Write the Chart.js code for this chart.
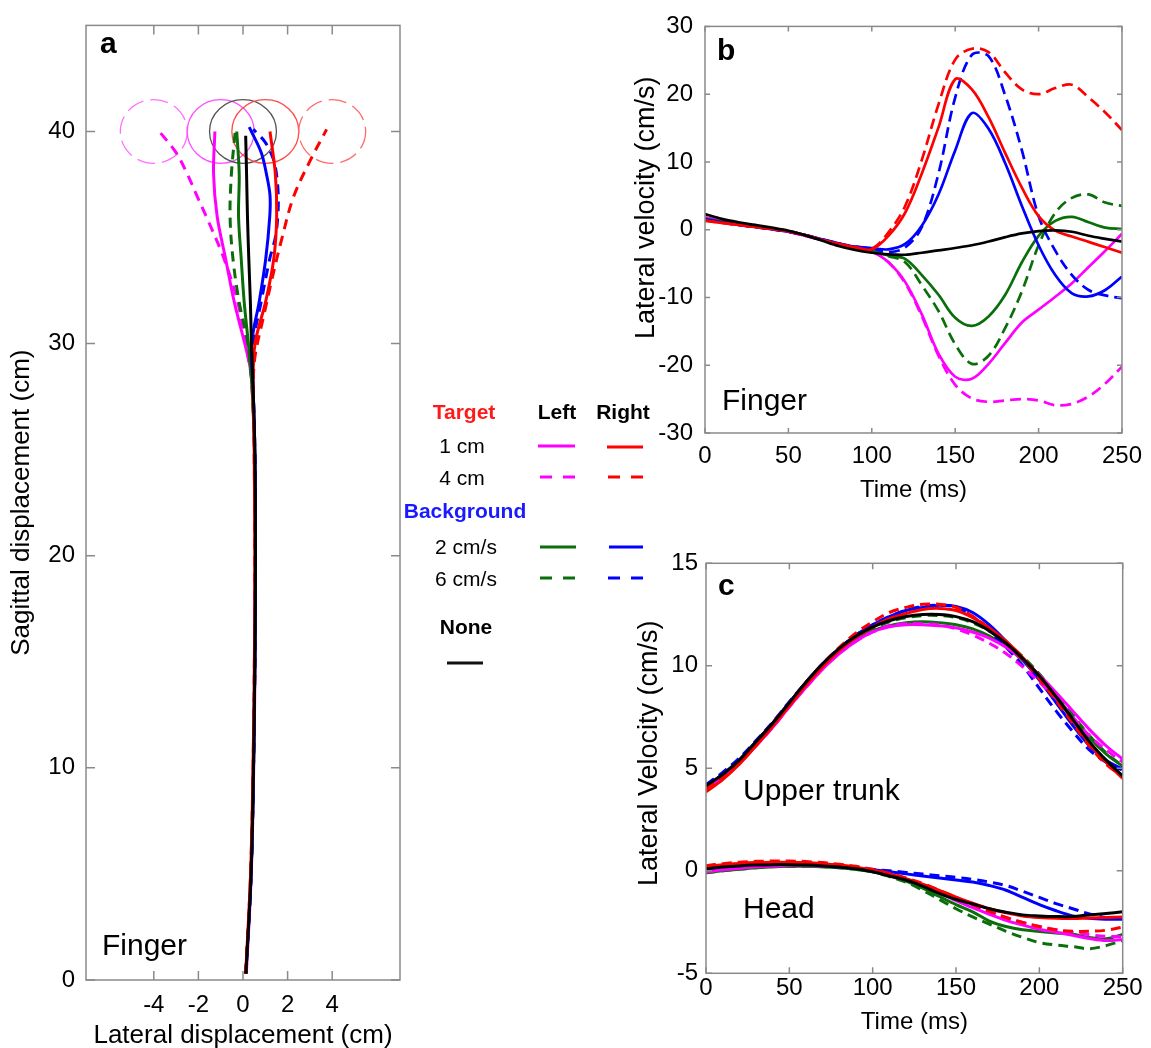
<!DOCTYPE html>
<html><head><meta charset="utf-8">
<script src="https://cdn.jsdelivr.net/npm/chart.js@4.4.1/dist/chart.umd.min.js"></script>
<style>
html,body{margin:0;padding:0;background:#fff;}
#wrap{position:relative;width:1151px;height:1048px;overflow:hidden;background:#fff;font-family:"Liberation Sans",Arial,sans-serif;}
canvas{position:absolute;}
.lg{position:absolute;transform:translate(-50%,-50%);font-size:21px;white-space:nowrap;color:#000;line-height:1;}
.b{font-weight:bold;}
#legend{position:absolute;left:0;top:0;width:1151px;height:1048px;z-index:5;pointer-events:none;}
</style></head><body>
<div id="wrap">
<canvas id="ca" width="430" height="1048" style="left:0;top:0"></canvas>
<canvas id="cb" width="521" height="520" style="left:630px;top:0"></canvas>
<canvas id="cc" width="521" height="508" style="left:630px;top:540px"></canvas>
<div id="legend">
  <div class="lg b" style="left:464px;top:411px;color:#ff1a1a">Target</div>
  <div class="lg b" style="left:557px;top:411px">Left</div>
  <div class="lg b" style="left:623px;top:411px">Right</div>
  <div class="lg" style="left:462px;top:445px">1 cm</div>
  <div class="lg" style="left:462px;top:477px">4 cm</div>
  <div class="lg b" style="left:465px;top:510px;color:#1a1aff">Background</div>
  <div class="lg" style="left:466px;top:546px">2 cm/s</div>
  <div class="lg" style="left:466px;top:578px">6 cm/s</div>
  <div class="lg b" style="left:466px;top:626px">None</div>
  <svg width="1151" height="1048" style="position:absolute;left:0;top:0">
    <line x1="538" y1="446" x2="575" y2="446" stroke="#ff00ff" stroke-width="3"/>
    <line x1="607" y1="447" x2="643" y2="447" stroke="#ff0000" stroke-width="3"/>
    <line x1="540" y1="477" x2="576" y2="477" stroke="#ff00ff" stroke-width="3" stroke-dasharray="12 11"/>
    <line x1="608" y1="477" x2="644" y2="477" stroke="#ff0000" stroke-width="3" stroke-dasharray="12 11"/>
    <line x1="540" y1="547" x2="576" y2="547" stroke="#0a6e0a" stroke-width="3"/>
    <line x1="609" y1="547" x2="643" y2="547" stroke="#0000ff" stroke-width="3"/>
    <line x1="540" y1="578" x2="576" y2="578" stroke="#0a6e0a" stroke-width="3" stroke-dasharray="12 11"/>
    <line x1="608" y1="578" x2="644" y2="578" stroke="#0000ff" stroke-width="3" stroke-dasharray="12 11"/>
    <line x1="447" y1="663" x2="483" y2="663" stroke="#111" stroke-width="3"/>
  </svg>
</div>
</div>
<script>
// ---------------- DATA ----------------
// Panel a: finger paths (lateral x, sagittal y), cm
const aXTicks = [-4, -2, 0, 2, 4];
const aYTicks = [0, 10, 20, 30, 40];
const targetX = [-4, -1, 0, 1, 4];
const targetY = [40, 40, 40, 40, 40];
const targetR = [1.5, 1.5, 1.5, 1.5, 1.5];

const aNoneY   = [0.3, 5, 10, 15, 20, 25, 28, 30, 32, 34, 36, 38, 39.8];
const aNoneX   = [0.13, 0.36, 0.47, 0.53, 0.56, 0.53, 0.45, 0.38, 0.33, 0.26, 0.2, 0.16, 0.12];
const aL1Y     = [0.3, 5, 10, 15, 20, 25, 28, 29, 30, 32, 34, 36, 38, 40];
const aL1X     = [0.15, 0.37, 0.48, 0.54, 0.56, 0.52, 0.42, 0.3, 0.08, -0.4, -0.78, -1.16, -1.32, -1.26];
const aL4Y     = [0.3, 5, 10, 15, 20, 25, 28, 30, 32, 34, 36, 37, 38, 39, 40];
const aL4X     = [0.14, 0.36, 0.47, 0.53, 0.55, 0.52, 0.42, 0.12, -0.25, -0.85, -1.65, -2.08, -2.5, -3.0, -3.75];
const aR1Y     = [0.3, 5, 10, 15, 20, 25, 28, 30, 32, 34, 36, 38, 40];
const aR1X     = [0.12, 0.34, 0.45, 0.51, 0.53, 0.5, 0.45, 0.54, 1.02, 1.38, 1.51, 1.45, 1.21];
const aR4Y     = [0.3, 5, 10, 15, 20, 25, 28, 29.4, 31.4, 33, 34.9, 36.9, 38.6, 40.1];
const aR4X     = [0.12, 0.34, 0.45, 0.51, 0.53, 0.5, 0.46, 0.54, 0.95, 1.29, 1.73, 2.26, 3.0, 3.75];
const aBgL2Y   = [0.3, 5, 10, 15, 20, 25, 28, 30, 32, 34, 36, 38, 40];
const aBgL2X   = [0.13, 0.36, 0.47, 0.53, 0.55, 0.52, 0.4, 0.24, 0.05, -0.08, -0.2, -0.17, -0.28];
const aBgL6Y   = [0.3, 5, 10, 15, 20, 25, 28, 30, 32, 34, 36, 38, 40];
const aBgL6X   = [0.13, 0.36, 0.47, 0.53, 0.55, 0.52, 0.4, 0.22, -0.18, -0.45, -0.58, -0.52, -0.35];
const aBgR2Y   = [0.3, 5, 10, 15, 20, 25, 28, 30, 32, 34, 36, 37, 38, 39, 40.2];
const aBgR2X   = [0.13, 0.36, 0.47, 0.53, 0.56, 0.53, 0.45, 0.39, 0.73, 1.02, 1.2, 1.21, 1.05, 0.82, 0.28];
const aBgR6Y   = [0.3, 5, 10, 15, 20, 25, 28, 30, 32, 34, 35, 36, 37, 38, 38.7, 39.5, 40.1];
const aBgR6X   = [0.13, 0.36, 0.47, 0.53, 0.56, 0.53, 0.46, 0.46, 0.82, 1.2, 1.45, 1.56, 1.58, 1.5, 1.36, 0.99, 0.46];

// Panels b and c: time axis (ms) and tick labels
const timeMs = [0,10,20,30,40,50,60,70,80,90,100,110,120,130,140,150,160,170,180,190,200,210,220,230,240,250];
const timeTicks = [0, 50, 100, 150, 200, 250];
const bYTicks = [-30, -20, -10, 0, 10, 20, 30];
const cYTicks = [-5, 0, 5, 10, 15];

// Panel b: finger lateral velocity (cm/s)
const bNone   = [2.3,1.6,1.1,0.7,0.3,-0.15,-0.8,-1.6,-2.4,-3.0,-3.4,-3.65,-3.7,-3.4,-3.05,-2.7,-2.3,-1.75,-1.1,-0.55,-0.2,-0.1,-0.3,-0.9,-1.35,-1.75];
const bR1     = [1.3,1.0,0.7,0.4,0.1,-0.25,-0.8,-1.5,-2.1,-2.6,-2.9,-0.9,2.5,8.3,15.1,22.2,20.7,16.6,11.3,6.2,2.0,-0.15,-1.0,-1.8,-2.6,-3.4];
const bR4     = [1.4,1.0,0.7,0.4,0.1,-0.25,-0.8,-1.5,-2.1,-2.6,-2.8,-0.4,3.5,10.3,18.5,25.1,26.7,26.2,23.2,20.7,20.0,20.9,21.4,19.5,17.3,14.7];
const bL1     = [1.8,1.3,0.9,0.5,0.1,-0.3,-0.9,-1.5,-2.1,-2.7,-3.2,-4.8,-7.7,-12.5,-18.3,-21.7,-22.0,-19.8,-16.7,-13.7,-11.8,-9.9,-7.9,-5.5,-3.1,-0.6];
const bL4     = [1.8,1.3,0.9,0.5,0.1,-0.3,-0.9,-1.5,-2.1,-2.7,-3.2,-4.8,-7.9,-12.8,-18.6,-22.9,-24.9,-25.4,-25.2,-25.0,-25.2,-25.9,-25.7,-24.6,-22.7,-20.2];
const bBgR2   = [1.5,1.1,0.7,0.4,0.05,-0.3,-0.8,-1.4,-2.0,-2.5,-2.7,-2.9,-2.1,0.6,5.2,11.7,17.2,14.9,9.8,3.5,-2.3,-6.7,-9.4,-9.85,-8.9,-6.9];
const bBgR6   = [1.5,1.1,0.7,0.4,0.05,-0.3,-0.8,-1.4,-2.0,-2.5,-2.8,-3.3,-2.6,0.4,8.3,19.5,25.8,25.6,19.8,11.7,2.0,-3.1,-6.7,-8.9,-9.7,-10.1];
const bBgL2   = [1.6,1.2,0.8,0.5,0.15,-0.2,-0.8,-1.5,-2.2,-2.8,-3.2,-3.8,-4.3,-6.7,-9.6,-13.0,-14.2,-12.8,-9.6,-4.8,-0.9,1.3,1.9,1.1,0.3,0.1];
const bBgL6   = [1.6,1.2,0.8,0.5,0.15,-0.2,-0.8,-1.5,-2.2,-2.8,-3.2,-3.9,-4.8,-8.2,-12.0,-16.9,-19.8,-18.6,-14.5,-9.1,-2.3,2.5,4.7,5.2,4.0,3.5];

// Panel c: upper trunk lateral velocity (cm/s)
const cTrunkNone = [4.15,4.7,5.4,6.3,7.2,8.2,9.2,10.1,10.85,11.45,11.9,12.2,12.4,12.5,12.5,12.4,12.15,11.7,11.1,10.35,9.5,8.5,7.4,6.3,5.4,4.63];
const cTrunkR1   = [3.85,4.45,5.2,6.1,7.05,8.05,9.05,9.95,10.75,11.4,11.9,12.3,12.55,12.75,12.8,12.7,12.35,11.85,11.2,10.4,9.5,8.45,7.35,6.2,5.3,4.5];
const cTrunkR4   = [4.0,4.6,5.35,6.25,7.2,8.2,9.2,10.1,10.9,11.6,12.15,12.6,12.85,13.0,13.0,12.85,12.4,11.8,11.1,10.3,9.35,8.3,7.2,6.1,5.2,4.6];
const cTrunkL1   = [4.0,4.55,5.25,6.1,7.0,8.0,8.95,9.85,10.6,11.2,11.65,11.9,12.0,12.0,11.95,11.85,11.65,11.35,10.9,10.3,9.55,8.7,7.8,6.9,6.1,5.45];
const cTrunkL4   = [4.0,4.55,5.25,6.1,7.0,8.0,8.95,9.85,10.6,11.2,11.65,11.95,12.05,12.05,12.0,11.8,11.5,11.1,10.6,9.95,9.2,8.4,7.5,6.6,5.9,5.3];
const cTrunkBgR2 = [4.1,4.7,5.4,6.3,7.2,8.2,9.2,10.1,10.85,11.5,12.0,12.4,12.7,12.85,12.95,12.9,12.6,12.0,11.2,10.3,9.3,8.2,7.1,6.1,5.4,4.95];
const cTrunkBgR6 = [4.2,4.8,5.5,6.35,7.25,8.25,9.2,10.1,10.85,11.5,12.0,12.4,12.7,12.9,12.95,12.85,12.4,11.7,10.9,10.0,8.9,7.8,6.8,5.9,5.3,4.9];
const cTrunkBgL2 = [4.1,4.7,5.4,6.3,7.2,8.2,9.15,10.0,10.75,11.3,11.7,11.95,12.1,12.15,12.1,12.0,11.8,11.45,10.95,10.25,9.45,8.5,7.5,6.5,5.7,5.1];
const cTrunkBgL6 = [4.1,4.7,5.4,6.3,7.2,8.15,9.1,10.0,10.75,11.35,11.8,12.15,12.35,12.45,12.45,12.35,12.1,11.7,11.15,10.45,9.6,8.6,7.6,6.6,5.75,5.1];

// Panel c: head lateral velocity (cm/s)
const cHeadNone = [0.1,0.18,0.24,0.28,0.3,0.3,0.28,0.24,0.18,0.1,-0.05,-0.25,-0.45,-0.75,-1.1,-1.4,-1.62,-1.85,-2.02,-2.15,-2.2,-2.23,-2.23,-2.15,-2.08,-2.0];
const cHeadR1   = [0.2,0.3,0.36,0.4,0.42,0.42,0.4,0.35,0.28,0.18,0.03,-0.15,-0.38,-0.65,-0.95,-1.28,-1.58,-1.85,-2.05,-2.2,-2.28,-2.32,-2.33,-2.3,-2.28,-2.25];
const cHeadR4   = [0.25,0.35,0.42,0.46,0.48,0.48,0.45,0.4,0.32,0.22,0.07,-0.12,-0.35,-0.62,-0.95,-1.3,-1.65,-1.98,-2.28,-2.52,-2.72,-2.88,-2.95,-2.95,-2.9,-2.75];
const cHeadL1   = [-0.05,0.05,0.13,0.2,0.24,0.26,0.26,0.24,0.2,0.12,0.0,-0.18,-0.42,-0.72,-1.08,-1.45,-1.8,-2.12,-2.42,-2.65,-2.85,-3.0,-3.15,-3.3,-3.4,-3.35];
const cHeadL4   = [-0.05,0.05,0.13,0.2,0.24,0.26,0.26,0.24,0.2,0.12,0.0,-0.18,-0.4,-0.68,-1.0,-1.32,-1.65,-1.98,-2.28,-2.52,-2.72,-2.88,-3.0,-3.12,-3.2,-3.2];
const cHeadBgR2 = [0.1,0.18,0.24,0.28,0.3,0.3,0.28,0.24,0.18,0.12,0.05,-0.05,-0.15,-0.25,-0.35,-0.45,-0.55,-0.72,-0.95,-1.3,-1.65,-1.95,-2.2,-2.32,-2.36,-2.36];
const cHeadBgR6 = [0.1,0.18,0.24,0.28,0.3,0.3,0.28,0.25,0.2,0.14,0.07,0.0,-0.08,-0.16,-0.24,-0.32,-0.42,-0.55,-0.72,-1.0,-1.3,-1.6,-1.85,-2.1,-2.28,-2.3];
const cHeadBgL2 = [-0.1,0.0,0.08,0.15,0.2,0.22,0.22,0.2,0.15,0.07,-0.05,-0.25,-0.5,-0.85,-1.25,-1.65,-2.0,-2.45,-2.72,-2.88,-2.96,-3.03,-3.1,-3.25,-3.32,-3.1];
const cHeadBgL6 = [-0.1,0.0,0.08,0.15,0.2,0.22,0.22,0.2,0.15,0.07,-0.05,-0.28,-0.55,-0.95,-1.4,-1.85,-2.25,-2.6,-2.95,-3.25,-3.5,-3.62,-3.7,-3.8,-3.65,-3.4];

// ---------------- STYLE ----------------
const COL = {mag:'#ff00ff', red:'#ff0000', green:'#0a6e0a', blue:'#0000ff', black:'#000000'};
const FONT = '"Liberation Sans", Arial, Helvetica, sans-serif';
Chart.defaults.font.family = FONT;
Chart.defaults.color = '#000';

function pairs(xs, ys){ return xs.map((x,i)=>({x:x, y:ys[i]})); }
function ds(data, color, dashed, width, dash){
  return {data:data, borderColor:color, backgroundColor:color, showLine:true, pointRadius:0,
          borderWidth:width, borderDash: dashed ? dash : [], tension:0.35, fill:false,
          borderCapStyle:'butt', borderJoinStyle:'round'};
}

const frame = {
  id:'frame',
  afterDatasetsDraw(chart, args, o){
    const {ctx, chartArea:{left,right,top,bottom}, scales:{x,y}} = chart;
    ctx.save();
    ctx.strokeStyle = o.color; ctx.lineWidth = o.width;
    ctx.strokeRect(left, top, right-left, bottom-top);
    ctx.beginPath();
    x.ticks.forEach(t=>{ const p=x.getPixelForValue(t.value);
      ctx.moveTo(p,bottom); ctx.lineTo(p,bottom-o.len); ctx.moveTo(p,top); ctx.lineTo(p,top+o.len); });
    y.ticks.forEach(t=>{ const p=y.getPixelForValue(t.value);
      ctx.moveTo(left,p); ctx.lineTo(left+o.len,p); ctx.moveTo(right,p); ctx.lineTo(right-o.len,p); });
    ctx.stroke();
    (o.texts||[]).forEach(t=>{
      ctx.font = t.font; ctx.fillStyle = '#000'; ctx.textBaseline='alphabetic'; ctx.textAlign='left';
      ctx.fillText(t.text, left + t.dx, top + t.dy);
    });
    if (o.yTitle) {
      const t = o.yTitle;
      ctx.save();
      ctx.translate(t.x, (top+bottom)/2 + t.dy);
      ctx.rotate(-Math.PI/2);
      ctx.font = t.font; ctx.fillStyle='#000'; ctx.textAlign='center'; ctx.textBaseline='middle';
      ctx.fillText(t.text, 0, 0);
      ctx.restore();
    }
    ctx.restore();
  }
};
const circles = {
  id:'circles',
  beforeDatasetsDraw(chart, args, o){
    const {ctx, scales:{x,y}} = chart;
    (o.items||[]).forEach(c=>{
      const cx=x.getPixelForValue(c.x), cy=y.getPixelForValue(c.y);
      const rx=Math.abs(x.getPixelForValue(c.x+c.r)-cx), ry=Math.abs(y.getPixelForValue(c.y+c.r)-cy);
      ctx.save(); ctx.strokeStyle=c.color; ctx.lineWidth=1.3; ctx.setLineDash(c.dash);
      ctx.beginPath(); ctx.ellipse(cx,cy,rx,ry,0,0,Math.PI*2); ctx.stroke(); ctx.restore();
    });
  }
};

function axis(opts){
  return {
    type:'linear', min:opts.min, max:opts.max,
    afterBuildTicks: s=>{ s.ticks = opts.ticks.map(v=>({value:v})); },
    afterFit: s=>{ if(opts.w!==undefined) s.width=opts.w; if(opts.h!==undefined) s.height=opts.h; },
    grid:{display:false, drawTicks:false}, border:{display:false},
    ticks:{font:{size:24}, color:'#000', padding:opts.pad, autoSkip:false, maxRotation:0,
           callback:(v)=>String(v)},
    title:{display:!!opts.title, text:opts.title||'', font:{size:opts.tsize||24}, color:'#000', padding:opts.tpad||0}
  };
}

// ---------------- PANEL A ----------------
const circleStyle = [
  {color:'#ff70ff', dash:[18,7]}, {color:'#ff50ff', dash:[]}, {color:'#555555', dash:[]},
  {color:'#ff4a4a', dash:[]}, {color:'#ff6a6a', dash:[18,7]}
];
const W_A = 3, D_A = [10,7];
new Chart(document.getElementById('ca'), {
  type:'scatter',
  data:{datasets:[
    ds(pairs(aNoneX,aNoneY), COL.black, false, W_A, D_A),
    ds(pairs(aR1X,aR1Y), COL.red, false, W_A, D_A),
    ds(pairs(aR4X,aR4Y), COL.red, true, W_A, D_A),
    ds(pairs(aBgR2X,aBgR2Y), COL.blue, false, W_A, D_A),
    ds(pairs(aBgR6X,aBgR6Y), COL.blue, true, W_A, D_A),
    ds(pairs(aBgL2X,aBgL2Y), COL.green, false, W_A, D_A),
    ds(pairs(aBgL6X,aBgL6Y), COL.green, true, W_A, D_A),
    ds(pairs(aL1X,aL1Y), COL.mag, false, W_A, D_A),
    ds(pairs(aL4X,aL4Y), COL.mag, true, W_A, D_A)
  ]},
  options:{
    responsive:false, animation:false, events:[],
    layout:{padding:{left:0, top:20, right:30, bottom:0}},
    plugins:{legend:{display:false}, tooltip:{enabled:false},
      frame:{color:'#8a8a8a', width:1.5, len:9, texts:[
        {text:'a', dx:14, dy:28, font:'bold 30px '+FONT},
        {text:'Finger', dx:16, dy:930, font:'30px '+FONT}
      ]},
      circles:{items: targetX.map((x,i)=>({x:x, y:targetY[i], r:targetR[i], color:circleStyle[i].color, dash:circleStyle[i].dash}))}
    },
    scales:{
      x: axis({min:-7.04, max:7.04, ticks:aXTicks, h:68, pad:10.6, title:'Lateral displacement (cm)', tsize:26, tpad:{top:0,bottom:-3}}),
      y: axis({min:0, max:45, ticks:aYTicks, w:86, pad:11, title:'Sagittal displacement (cm)', tsize:26, tpad:{top:6,bottom:0}})
    }
  },
  plugins:[circles, frame]
});

// ---------------- PANEL B ----------------
const W_B = 2.7, D_B = [11,6];
new Chart(document.getElementById('cb'), {
  type:'scatter',
  data:{datasets:[
    ds(pairs(timeMs,bNone), COL.black, false, W_B, D_B),
    ds(pairs(timeMs,bR1), COL.red, false, W_B, D_B),
    ds(pairs(timeMs,bR4), COL.red, true, W_B, D_B),
    ds(pairs(timeMs,bBgR2), COL.blue, false, W_B, D_B),
    ds(pairs(timeMs,bBgR6), COL.blue, true, W_B, D_B),
    ds(pairs(timeMs,bBgL2), COL.green, false, W_B, D_B),
    ds(pairs(timeMs,bBgL6), COL.green, true, W_B, D_B),
    ds(pairs(timeMs,bL1), COL.mag, false, W_B, D_B),
    ds(pairs(timeMs,bL4), COL.mag, true, W_B, D_B)
  ]},
  options:{
    responsive:false, animation:false, events:[],
    layout:{padding:{left:0, top:22.7, right:28.3, bottom:0}},
    plugins:{legend:{display:false}, tooltip:{enabled:false},
      frame:{color:'#8a8a8a', width:1.5, len:5, texts:[
        {text:'b', dx:12, dy:34, font:'bold 30px '+FONT},
        {text:'Finger', dx:17, dy:384, font:'30px '+FONT}
      ], yTitle:{text:'Lateral velocity (cm/s)', x:17, dy:-22, font:'27px '+FONT}}
    },
    scales:{
      x: axis({min:0, max:250, ticks:timeTicks, h:87, pad:9, title:'Time (ms)', tsize:24, tpad:{top:0,bottom:15.6}}),
      y: axis({min:-30, max:30, ticks:bYTicks, w:75, pad:12})
    }
  },
  plugins:[frame]
});

// ---------------- PANEL C ----------------
const W_C = 3, D_C = [10,6];
new Chart(document.getElementById('cc'), {
  type:'scatter',
  data:{datasets:[
    ds(pairs(timeMs,cTrunkNone), COL.black, false, W_C, D_C),
    ds(pairs(timeMs,cHeadNone), COL.black, false, W_C, D_C),
    ds(pairs(timeMs,cTrunkR1), COL.red, false, W_C, D_C),
    ds(pairs(timeMs,cHeadR1), COL.red, false, W_C, D_C),
    ds(pairs(timeMs,cTrunkR4), COL.red, true, W_C, D_C),
    ds(pairs(timeMs,cHeadR4), COL.red, true, W_C, D_C),
    ds(pairs(timeMs,cTrunkL1), COL.mag, false, W_C, D_C),
    ds(pairs(timeMs,cHeadL1), COL.mag, false, W_C, D_C),
    ds(pairs(timeMs,cTrunkL4), COL.mag, true, W_C, D_C),
    ds(pairs(timeMs,cHeadL4), COL.mag, true, W_C, D_C),
    ds(pairs(timeMs,cTrunkBgR2), COL.blue, false, W_C, D_C),
    ds(pairs(timeMs,cHeadBgR2), COL.blue, false, W_C, D_C),
    ds(pairs(timeMs,cTrunkBgR6), COL.blue, true, W_C, D_C),
    ds(pairs(timeMs,cHeadBgR6), COL.blue, true, W_C, D_C),
    ds(pairs(timeMs,cTrunkBgL2), COL.green, false, W_C, D_C),
    ds(pairs(timeMs,cHeadBgL2), COL.green, false, W_C, D_C),
    ds(pairs(timeMs,cTrunkBgL6), COL.green, true, W_C, D_C),
    ds(pairs(timeMs,cHeadBgL6), COL.green, true, W_C, D_C)
  ]},
  options:{
    responsive:false, animation:false, events:[],
    layout:{padding:{left:0, top:23.3, right:28.3, bottom:0}},
    plugins:{legend:{display:false}, tooltip:{enabled:false},
      frame:{color:'#8a8a8a', width:1.5, len:6, texts:[
        {text:'c', dx:12, dy:32, font:'bold 30px '+FONT},
        {text:'Upper trunk', dx:37, dy:237, font:'30px '+FONT},
        {text:'Head', dx:37, dy:355, font:'30px '+FONT}
      ], yTitle:{text:'Lateral Velocity (cm/s)', x:20, dy:-15, font:'27px '+FONT}}
    },
    scales:{
      x: axis({min:0, max:250, ticks:timeTicks, h:74.7, pad:1, title:'Time (ms)', tsize:24, tpad:{top:0,bottom:11.6}}),
      y: axis({min:-5, max:15, ticks:cYTicks, w:76, pad:8})
    }
  },
  plugins:[frame]
});
</script>
</body></html>
